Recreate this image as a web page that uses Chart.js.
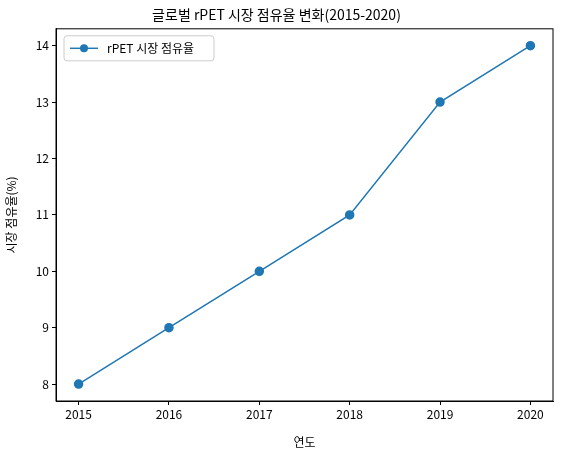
<!DOCTYPE html>
<html>
<head>
<meta charset="utf-8">
<script src="https://cdn.jsdelivr.net/npm/chart.js@4"></script>
<style>
  html, body { margin: 0; padding: 0; background: #fff; }
  #wrap { width: 561px; height: 454px; }
</style>
</head>
<body>
<div id="wrap"><canvas id="myChart"></canvas></div>
<script>
const years = [2015, 2016, 2017, 2018, 2019, 2020];
const shares = [8, 9, 10, 11, 13, 14];
const yTicks = [8, 9, 10, 11, 12, 13, 14];
const seriesLabel = "rPET 시장 점유율";

const FONT = "'Noto Sans CJK KR', 'Noto Sans', sans-serif";
Chart.defaults.font.family = FONT;
Chart.defaults.color = "#000";

new Chart(document.getElementById("myChart"), {
  type: "line",
  data: {
    datasets: [{
      label: seriesLabel,
      data: years.map((y, i) => ({ x: y, y: shares[i] })),
      borderColor: "#1f77b4",
      backgroundColor: "#1f77b4",
      borderWidth: 1.5,
      pointRadius: 4,
      pointHoverRadius: 4,
      tension: 0
    }]
  },
  options: {
    responsive: true,
    maintainAspectRatio: false,
    animation: false,
    layout: { padding: { left: 0, right: 8, top: 0, bottom: 0 } },
    plugins: {
      title: {
        display: true,
        text: "글로벌 rPET 시장 점유율 변화(2015-2020)",
        font: { size: 14, weight: "normal" },
        padding: { top: 6, bottom: 6 }
      },
      legend: { display: false },
      tooltip: { enabled: false }
    },
    scales: {
      x: {
        type: "linear",
        min: 2014.75,
        max: 2020.25,
        afterBuildTicks: (s) => { s.ticks = years.map(v => ({ value: v })); },
        ticks: { font: { size: 12 }, padding: 2, callback: v => String(v) },
        grid: { display: true, drawOnChartArea: false, tickLength: 4, color: "#000" },
        border: { color: "#000" },
        title: { display: true, text: "연도", font: { size: 12 }, padding: { top: 0 } },
        afterFit: (s) => { s.height = 53; }
      },
      y: {
        min: 7.7,
        max: 14.3,
        afterBuildTicks: (s) => { s.ticks = yTicks.map(v => ({ value: v })); },
        ticks: { font: { size: 12 }, padding: 3 },
        grid: { display: true, drawOnChartArea: false, tickLength: 4, color: "#000" },
        border: { color: "#000" },
        title: { display: true, text: "시장 점유율(%)", font: { size: 12 } },
        afterFit: (s) => { s.width = 56; }
      }
    }
  },
  plugins: [{
    id: "frameLegend",
    afterDraw(chart) {
      const { ctx, chartArea: a } = chart;
      ctx.save();
      ctx.strokeStyle = "#000";
      ctx.lineWidth = 1;
      ctx.strokeRect(a.left, a.top, a.right - a.left, a.bottom - a.top);
      // legend box, matplotlib style
      const x = a.left + 8, y = a.top + 7, w = 150, h = 25;
      ctx.strokeStyle = "#ccc";
      ctx.fillStyle = "rgba(255,255,255,0.8)";
      ctx.beginPath();
      ctx.roundRect(x, y, w, h, 3);
      ctx.fill();
      ctx.stroke();
      const cy = y + h / 2;
      ctx.strokeStyle = "#1f77b4";
      ctx.lineWidth = 1.5;
      ctx.beginPath();
      ctx.moveTo(x + 6, cy);
      ctx.lineTo(x + 34, cy);
      ctx.stroke();
      ctx.fillStyle = "#1f77b4";
      ctx.beginPath();
      ctx.arc(x + 20, cy, 4, 0, Math.PI * 2);
      ctx.fill();
      ctx.fillStyle = "#000";
      ctx.font = "12px " + FONT;
      ctx.textBaseline = "middle";
      ctx.fillText(seriesLabel, x + 43, cy);
      ctx.restore();
    }
  }]
});
</script>
</body>
</html>
